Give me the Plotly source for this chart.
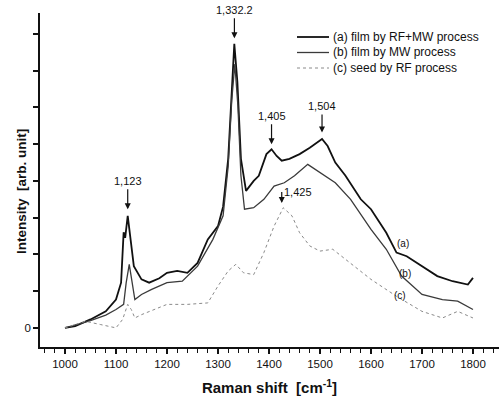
import plotly.graph_objects as go

# Raman shift (cm^-1) and intensities
x_a = [1000, 1020, 1050, 1080, 1100, 1110, 1115, 1118, 1123, 1128, 1135, 1150, 1165, 1185, 1200, 1220, 1240, 1260,
       1280, 1300, 1310, 1320, 1326, 1332, 1338, 1345, 1355, 1370, 1380, 1395, 1405, 1415, 1425, 1440, 1460,
       1480, 1504, 1515, 1530, 1550, 1580, 1600, 1630, 1650, 1670, 1700, 1730, 1760, 1790, 1800]
y_a = [0.0, 0.05, 0.23, 0.45, 0.77, 1.23, 2.6, 2.45, 3.05, 2.4, 1.68, 1.32, 1.23, 1.35, 1.5, 1.55, 1.5, 1.77,
       2.41, 2.77, 3.3, 4.6, 6.2, 7.73, 6.7, 4.6, 3.73, 4.0, 4.14, 4.73, 4.86, 4.68, 4.55, 4.6, 4.73,
       4.9, 5.14, 4.95, 4.5, 4.14, 3.5, 3.23, 2.59, 2.05, 1.95, 1.68, 1.41, 1.27, 1.18, 1.36]

x_b = [1000, 1050, 1080, 1100, 1115, 1120, 1126, 1132, 1137, 1150, 1170, 1200, 1230, 1260, 1290, 1310, 1320,
       1327, 1333, 1339, 1345, 1352, 1370, 1390, 1410, 1430, 1450, 1476, 1500, 1530, 1560, 1600, 1630,
       1660, 1700, 1740, 1770, 1800]
y_b = [0.0, 0.2, 0.35, 0.5, 0.64, 1.23, 1.73, 1.23, 0.77, 0.91, 1.05, 1.23, 1.27, 1.68, 2.41, 3.05, 4.4,
       6.2, 7.18, 6.05, 4.14, 3.23, 3.27, 3.5, 3.86, 3.95, 4.14, 4.45, 4.23, 3.95, 3.5, 2.68, 2.14,
       1.41, 0.91, 0.77, 0.73, 0.5]

x_c = [1000, 1040, 1070, 1100, 1113, 1123, 1130, 1137, 1150, 1200, 1240, 1280, 1300, 1320, 1335, 1350, 1370,
       1390, 1410, 1428, 1445, 1460, 1480, 1500, 1525, 1550, 1600, 1650, 1700, 1740, 1770, 1800]
y_c = [0.0, 0.18, 0.09, 0.0, 0.23, 0.64, 0.5, 0.27, 0.36, 0.64, 0.64, 0.68, 1.14, 1.55, 1.73, 1.5, 1.45,
       2.05, 2.77, 3.27, 3.05, 2.59, 2.23, 2.09, 2.14, 1.86, 1.32, 0.86, 0.45, 0.27, 0.45, 0.27]

series_names = ["(a) film by RF+MW process", "(b) film by MW process", "(c) seed by RF process"]

peak_x = [1123, 1332.2, 1405, 1504, 1425]
peak_y = [3.23, 7.88, 5.0, 5.32, 3.4]
peak_labels = ["1,123", "1,332.2", "1,405", "1,504", "1,425"]

curve_labels = ["(a)", "(b)", "(c)"]
curve_label_x = [1663, 1667, 1657]
curve_label_y = [2.29, 1.48, 0.88]

FONT = "Liberation Sans, Arial, sans-serif"
W, H = 502, 398
ML, MR, MT, MB = 40, 3, 13, 51
PW, PH = W - ML - MR, H - MT - MB


def px2paper(px, py):
    return (px - ML) / PW, (H - MB - py) / PH


styles = [dict(color="#111111", width=1.8),
          dict(color="#3a3a3a", width=1.3),
          dict(color="#8a8a8a", width=1, dash="dot")]

fig = go.Figure()
for xs, ys, nm, st in zip([x_a, x_b, x_c], [y_a, y_b, y_c], series_names, styles):
    fig.add_trace(go.Scatter(x=xs, y=ys, mode="lines", name=nm, line=st, showlegend=False))

# manual legend (compact rows as in the original)
for i, (nm, st) in enumerate(zip(series_names, styles)):
    row_y = 37 + i * 15.5
    x0, y0 = px2paper(297, row_y)
    x1, _ = px2paper(329, row_y)
    fig.add_shape(type="line", xref="paper", yref="paper", x0=x0, x1=x1, y0=y0, y1=y0,
                  line=st)
    tx, ty = px2paper(331, row_y)
    fig.add_annotation(xref="paper", yref="paper", x=tx, y=ty, text=nm, showarrow=False,
                       xanchor="left", yanchor="middle",
                       font=dict(size=12, color="#111", family=FONT))

arrow_len = [20, 20, 20, 18, 11]
for i, (px, py, lab, al) in enumerate(zip(peak_x, peak_y, peak_labels, arrow_len)):
    if i < 4:
        fig.add_annotation(x=px, y=py, ax=0, ay=-al, text=lab, showarrow=True,
                           arrowhead=2, arrowsize=1, arrowwidth=1.2, arrowcolor="#111",
                           font=dict(size=11, color="#111", family=FONT),
                           yanchor="bottom")
    else:
        fig.add_annotation(x=px, y=py, ax=0, ay=-al, text=lab, showarrow=True,
                           arrowhead=2, arrowsize=1, arrowwidth=1.2, arrowcolor="#111",
                           xanchor="left", yanchor="middle",
                           font=dict(size=11, color="#111", family=FONT))

for lab, lx, ly in zip(curve_labels, curve_label_x, curve_label_y):
    fig.add_annotation(x=lx, y=ly, text=lab, showarrow=False,
                       font=dict(size=10, color="#111", family=FONT))

# y axis title as rotated text
tx, ty = px2paper(21, 192)
fig.add_annotation(xref="paper", yref="paper", x=tx, y=ty, text="<b>Intensity  [arb. unit]</b>",
                   textangle=-90, showarrow=False, xanchor="center", yanchor="middle",
                   font=dict(size=13.5, color="#111", family=FONT))

fig.update_layout(
    width=W, height=H,
    margin=dict(l=ML, r=MR, t=MT, b=MB),
    paper_bgcolor="white", plot_bgcolor="white",
    font=dict(family=FONT, color="#111", size=11),
    showlegend=False,
)
fig.update_xaxes(range=[951, 1851], showgrid=False, zeroline=False, automargin=False,
                 showline=True, linecolor="#111", linewidth=1.5,
                 ticks="outside", ticklen=5, tickwidth=1.5, tickcolor="#111",
                 tickvals=[1000, 1100, 1200, 1300, 1400, 1500, 1600, 1700, 1800],
                 tickfont=dict(size=11.5),
                 minor=dict(dtick=20, tick0=1000, ticks="outside", ticklen=4, tickwidth=1.2, tickcolor="#111"),
                 title=dict(text="<b>Raman shift  [cm<sup>-1</sup>]</b>", font=dict(size=15), standoff=14))
fig.update_yaxes(range=[-0.52, 8.57], showgrid=False, zeroline=False, automargin=False,
                 showline=True, linecolor="#111", linewidth=1.5,
                 ticks="outside", ticklen=5, tickwidth=1.5, tickcolor="#111",
                 tickvals=[0], ticktext=["0"],
                 tickfont=dict(size=11.5),
                 minor=dict(dtick=1, tick0=0, ticks="outside", ticklen=5, tickwidth=1.5, tickcolor="#111"))

fig.write_html("out.html", config={"displayModeBar": False},
               post_script="document.body.style.margin='0';")
